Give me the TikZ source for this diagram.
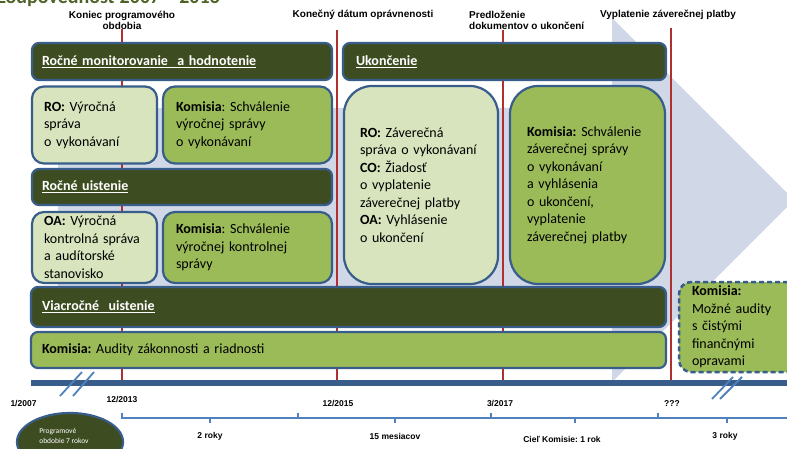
\documentclass[tikz,border=0pt]{standalone}
\usepackage{fontspec}
\setmainfont{Carlito}
\newfontfamily\arialfont{Liberation Sans}
\usetikzlibrary{shapes.geometric}
\frenchspacing
\definecolor{bargreen}{RGB}{62,77,33}
\definecolor{paleg}{RGB}{215,228,189}
\definecolor{midg}{RGB}{155,187,89}
\definecolor{frameblue}{RGB}{56,93,138}
\definecolor{axisblue}{RGB}{79,129,189}
\definecolor{arrowbg}{RGB}{208,216,232}
\definecolor{markred}{RGB}{176,48,48}
\definecolor{titlegreen}{RGB}{79,98,40}
\tikzset{
  darkbar/.style={draw=frameblue, line width=2.2pt, fill=bargreen, rounded corners=7pt, text=white,
    font=\bfseries\fontsize{14}{17.5}\selectfont, align=left, inner xsep=10pt, inner ysep=0pt},
  lightbox/.style={draw=frameblue, line width=2.2pt, fill=paleg, rounded corners=12pt,
    font=\fontsize{14}{17.5}\selectfont, align=left, inner ysep=0pt},
  greenbox/.style={lightbox, fill=midg},
  toplabel/.style={font=\arialfont\bfseries\fontsize{10}{11}\selectfont, inner sep=0pt},
  datelabel/.style={font=\arialfont\bfseries\fontsize{8.5}{9}\selectfont, inner sep=0pt},
  redline/.style={draw=markred, line width=2.4pt},
  slash/.style={draw=axisblue, line width=1.8pt},
  axisline/.style={draw=axisblue, line width=1.1pt}
}
\begin{document}
\begin{tikzpicture}[x=1pt,y=-1pt]
\useasboundingbox (0,0) rectangle (787,449);
\node [anchor=base east, inner sep=0pt, text=titlegreen, font=\bfseries\fontsize{20}{24}\selectfont] (title) at (220,3.5) {Zodpovednosť 2007 – 2013};
\fill [arrowbg] (58,108) -- (612,108) -- (612,18) -- (794,200) -- (612,382) -- (612,300) -- (58,300) -- cycle;
\node [toplabel, align=center] (lkoniec) at (122,20.5) {Koniec programového\\obdobia};
\node [toplabel] (ldatum) at (363,15) {Konečný dátum oprávnenosti};
\node [toplabel, align=left, anchor=west] (lpredl) at (469,20.5) {Predloženie\\dokumentov o ukončení};
\node [toplabel] (lvypl) at (668,15) {Vyplatenie záverečnej platby};
\coordinate (r1t) at (122,29);
\coordinate (r1b) at (122,383);
\coordinate (r2t) at (337,30);
\coordinate (r2b) at (337,383);
\coordinate (r3t) at (503,30);
\coordinate (r3b) at (503,383);
\coordinate (r4t) at (671,28);
\coordinate (r4b) at (671,383);
\draw [redline] (r1t) -- (r1b);
\draw [redline] (r2t) -- (r2b);
\draw [redline] (r3t) -- (r3b);
\draw [redline] (r4t) -- (r4b);
\node [darkbar, minimum width=300pt, minimum height=37pt, text width=280pt] (monbar) at (182,61.5) {\underline{Ročné monitorovanie\ \ a hodnotenie}};
\node [darkbar, minimum width=323pt, minimum height=37pt, text width=297pt, inner xsep=13pt] (ukbar) at (504.5,61.5) {\underline{Ukončenie}};
\node [lightbox, minimum width=125pt, minimum height=77pt, text width=101pt, inner xsep=12pt] (ro) at (94.5,125) {\textbf{RO:} Výročná\\správa\\o vykonávaní};
\node [greenbox, minimum width=169pt, minimum height=77pt, text width=143pt, inner xsep=13pt] (kom1) at (247.5,125) {\textbf{Komisia}: Schválenie\\výročnej správy\\o vykonávaní};
\node [darkbar, minimum width=300pt, minimum height=36pt, text width=280pt] (uistbar) at (182,187) {\underline{Ročné uistenie}};
\node [lightbox, minimum width=125pt, minimum height=71pt, text width=101pt, inner xsep=12pt] (oa) at (94.5,247.5) {\textbf{OA:} Výročná\\kontrolná správa\\a audítorské\\stanovisko};
\node [greenbox, minimum width=169pt, minimum height=71pt, text width=143pt, inner xsep=13pt] (kom2) at (247.5,247.5) {\textbf{Komisia}: Schválenie\\výročnej kontrolnej\\správy};
\node [lightbox, rounded corners=28pt, minimum width=154pt, minimum height=198pt, text width=122pt, inner xsep=16pt] (zav) at (421,185) {\textbf{RO:} Záverečná\\správa o vykonávaní\\\textbf{CO:} Žiadosť\\o vyplatenie\\záverečnej platby\\\textbf{OA:} Vyhlásenie\\o ukončení};
\node [greenbox, rounded corners=28pt, minimum width=155pt, minimum height=198pt, text width=121pt, inner xsep=17pt] (komzav) at (587.5,185) {\textbf{Komisia:} Schválenie\\záverečnej správy\\o vykonávaní\\a vyhlásenia\\o ukončení,\\vyplatenie\\záverečnej platby};
\node [darkbar, minimum width=635pt, minimum height=40pt, text width=613pt, inner xsep=11pt] (viacbar) at (348.5,307) {\underline{Viacročné\ \ uistenie}};
\node [greenbox, rounded corners=7pt, minimum width=635pt, minimum height=36pt, text width=613pt, inner xsep=11pt] (audit) at (348.5,350) {\textbf{Komisia:} Audity zákonnosti a riadnosti};
\node [greenbox, dash pattern=on 5pt off 3pt, line width=2.5pt, minimum width=121pt, minimum height=90pt, text width=95pt, inner xsep=13pt] (mozne) at (739.5,327) {\textbf{Komisia:}\\Možné audity\\s čistými\\finančnými\\opravami};
\coordinate (tl0) at (31,383);
\coordinate (tl1) at (790,383);
\draw [frameblue, line width=6pt] (tl0) -- (tl1);
\draw [slash] (60,396) -- (82,372);
\draw [slash] (73,396) -- (94,372);
\draw [slash] (712,399) -- (733,377);
\draw [slash] (720,399) -- (742,377);
\draw [axisline] (122,413) -- (122,418) -- (790,418);
\draw [axisline] (210,418) -- (210,423);
\draw [axisline] (298,413) -- (298,418);
\draw [axisline] (395,418) -- (395,423);
\draw [axisline] (491,413) -- (491,418);
\draw [axisline] (575,418) -- (575,423);
\draw [axisline] (658,413) -- (658,418);
\draw [axisline] (727,418) -- (727,423);
\node [datelabel] (d2007) at (23.5,404) {1/2007};
\node [datelabel] (d2013) at (122,400) {12/2013};
\node [datelabel] (d2015) at (338,404) {12/2015};
\node [datelabel] (d2017) at (500,404) {3/2017};
\node [datelabel] (dqqq) at (672,404) {???};
\node [datelabel] (s2roky) at (210,436) {2 roky};
\node [datelabel] (s15mes) at (395,436) {15 mesiacov};
\node [datelabel] (scielr) at (562,439) {Cieľ Komisie: 1 rok};
\node [datelabel] (s3roky) at (725,436) {3 roky};
\node [ellipse, draw=frameblue, line width=2.2pt, fill=bargreen, minimum width=106pt, minimum height=58pt] (prog) at (70,442) {};
\node [text=white, align=left, inner sep=0pt, font=\fontsize{7.5}{10}\selectfont] (progtext) at (64,436) {Programové\\obdobie 7 rokov};
\end{tikzpicture}
\end{document}
